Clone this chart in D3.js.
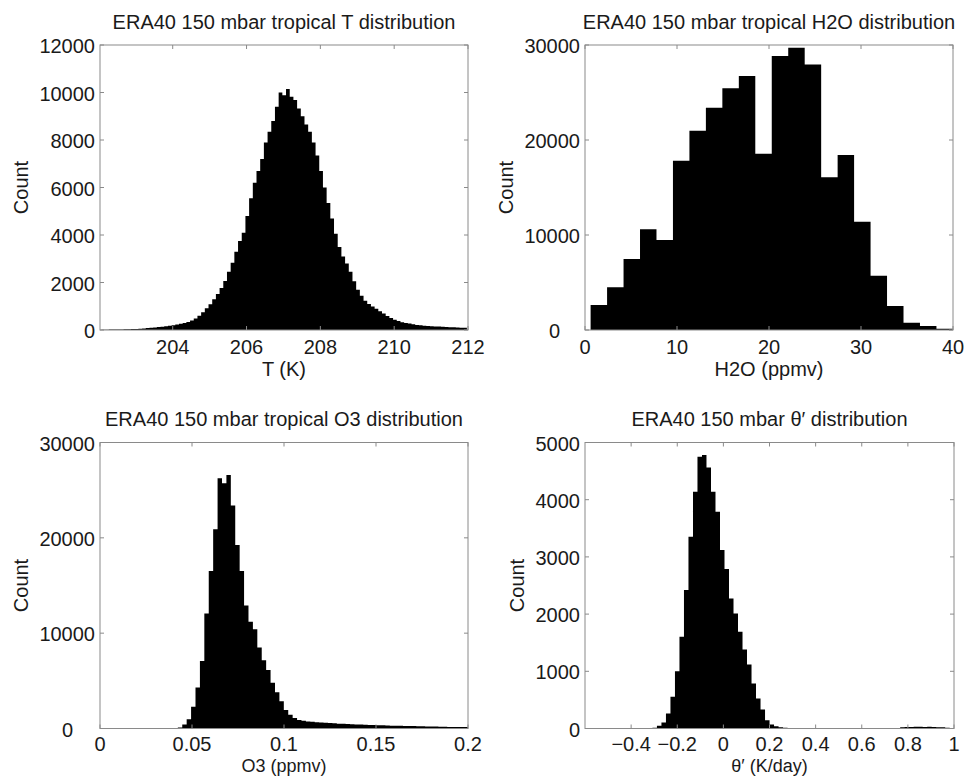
<!DOCTYPE html>
<html>
<head>
<meta charset="utf-8">
<script src="https://cdn.jsdelivr.net/npm/d3@7"></script>
<style>
  html, body { margin: 0; padding: 0; background: #fff; }
  svg { display: block; }
  text { font-family: "Liberation Sans", Arial, Helvetica, sans-serif; fill: #1a1a1a; }
</style>
</head>
<body>
<svg id="chart" width="967" height="776"></svg>
<script>
// ---------------- DATA ----------------
// Temperature histogram (K), bins of 0.1 K starting at tBinStart
const tBinStart = 202.07;
const tBinWidth = 0.1;
const tCounts = [
  15, 15, 20, 20, 25, 25, 30, 35, 40, 45,
  55, 65, 80, 95, 110, 125, 140, 160, 180, 200,
  230, 260, 300, 340, 400, 480, 600, 750, 920, 1080,
  1290, 1520, 1770, 2060, 2450, 2830, 3300, 3750, 4100, 4800,
  5550, 6200, 6700, 7200, 7900, 8350, 8800, 9400, 10000, 9880,
  10150, 9820, 9680, 9330, 9000, 8650, 8350, 7900, 7350, 6700,
  6000, 5350, 4700, 4050, 3500, 3100, 2800, 2450, 2050, 1700,
  1440, 1230, 1090, 990, 890, 790, 690, 590, 505, 435,
  375, 330, 300, 270, 240, 215, 195, 180, 170, 160,
  150, 145, 140, 130, 120, 115, 110, 100, 90
];
const tXTicks = [204, 206, 208, 210, 212];
const tYTicks = [0, 2000, 4000, 6000, 8000, 10000, 12000];

// H2O histogram (ppmv)
const h2oBinStart = 0.61;
const h2oBinWidth = 1.79;
const h2oCounts = [
  2630, 4490, 7470, 10600, 9470, 17820, 20980, 23400, 25440, 26740,
  18560, 28840, 29720, 27960, 16070, 18420, 11400, 5720, 2530, 770,
  420, 140
];
const h2oXTicks = [0, 10, 20, 30, 40];
const h2oYTicks = [0, 10000, 20000, 30000];

// O3 histogram (ppmv)
const o3BinStart = 0.0399;
const o3BinWidth = 0.0024;
const o3Counts = [
  40, 105, 420, 980, 2275, 4300, 7070, 12075, 16520, 20900,
  26250, 25725, 26600, 23380, 19250, 16520, 12900, 11200, 10400, 8500,
  7150, 6125, 4800, 3800, 2850, 1950, 1450, 1100, 900, 800,
  740, 700, 660, 630, 600, 570, 540, 510, 490, 470,
  450, 430, 410, 390, 375, 360, 345, 330, 315, 300,
  290, 280, 270, 260, 250, 240, 230, 220, 210, 200,
  190, 180, 170, 160, 155, 150, 145
];
const o3XTicks = [0, 0.05, 0.1, 0.15, 0.2];
const o3XLabels = ["0", "0.05", "0.1", "0.15", "0.2"];
const o3YTicks = [0, 10000, 20000, 30000];

// theta' histogram (K/day)
const thBinStart = -0.3076;
const thBinWidth = 0.01953;
const thCounts = [
  12, 47, 105, 262, 554, 1003, 1603, 2420, 3352, 4140,
  4750, 4780, 4565, 4140, 3790, 3120, 2787, 2274, 2011, 1691,
  1382, 1120, 787, 525, 332, 146, 70, 41, 23, 12,
  6, 0, 0, 0, 0, 0, 0, 0, 0, 0,
  0, 0, 0, 0, 0, 0, 0, 0, 0, 0,
  0, 0, 0, 0, 10, 20, 25, 28, 30, 30,
  28, 30, 26, 22, 20, 12, 5
];
const thXTicks = [-0.4, -0.2, 0, 0.2, 0.4, 0.6, 0.8, 1];
const thXLabels = ["\u22120.4", "\u22120.2", "0", "0.2", "0.4", "0.6", "0.8", "1"];
const thYTicks = [0, 1000, 2000, 3000, 4000, 5000];

const titles = [
  "ERA40 150 mbar tropical T distribution",
  "ERA40 150 mbar tropical H2O distribution",
  "ERA40 150 mbar tropical O3 distribution",
  "ERA40 150 mbar \u03B8\u2032 distribution"
];
const xLabels = ["T (K)", "H2O (ppmv)", "O3 (ppmv)", "\u03B8\u2032 (K/day)"];
const yLabel = "Count";

// ---------------- LAYOUT ----------------
const panels = [
  { left: 100, top: 45, w: 368, h: 285, xDom: [202.03, 212], yDom: [0, 12000],
    start: tBinStart, width: tBinWidth, counts: tCounts,
    xTicks: tXTicks, xLabs: tXTicks.map(String), yTicks: tYTicks, yLabX: -72, zeroShift: 0,
    tickDy: 23.5, xLabDy: 46, xLabSize: 20 },
  { left: 585, top: 45, w: 368, h: 285, xDom: [0, 40], yDom: [0, 30000],
    start: h2oBinStart, width: h2oBinWidth, counts: h2oCounts,
    xTicks: h2oXTicks, xLabs: h2oXTicks.map(String), yTicks: h2oYTicks, yLabX: -72, zeroShift: -20,
    tickDy: 23.5, xLabDy: 46, xLabSize: 20 },
  { left: 100, top: 442.5, w: 368, h: 286, xDom: [0, 0.2], yDom: [0, 30000],
    start: o3BinStart, width: o3BinWidth, counts: o3Counts,
    xTicks: o3XTicks, xLabs: o3XLabels, yTicks: o3YTicks, yLabX: -72, zeroShift: -22,
    tickDy: 22, xLabDy: 43, xLabSize: 18 },
  { left: 585, top: 442.5, w: 369, h: 286, xDom: [-0.6, 1], yDom: [0, 5000],
    start: thBinStart, width: thBinWidth, counts: thCounts,
    xTicks: thXTicks, xLabs: thXLabels, yTicks: thYTicks, yLabX: -61, zeroShift: 0,
    tickDy: 22, xLabDy: 43, xLabSize: 18 }
];

const svg = d3.select("#chart");
svg.append("rect").attr("width", 967).attr("height", 776).attr("fill", "#fff");

const axisColor = "#8a8a8a";
const fontSize = 20;
const tickLen = 4;

panels.forEach((p, i) => {
  const g = svg.append("g").attr("transform", `translate(${p.left},${p.top})`);
  const x = d3.scaleLinear().domain(p.xDom).range([0, p.w]);
  const y = d3.scaleLinear().domain(p.yDom).range([p.h, 0]);

  const clipId = "clip" + i;
  g.append("clipPath").attr("id", clipId)
    .append("rect").attr("x", 0).attr("y", 0).attr("width", p.w).attr("height", p.h);

  // step points: left edge of every bin, plus right edge of the last bin
  const pts = p.counts.map((c, k) => ({ xv: p.start + k * p.width, c }));
  pts.push({ xv: p.start + p.counts.length * p.width, c: p.counts[p.counts.length - 1] });

  const area = d3.area()
    .curve(d3.curveStepAfter)
    .x(d => x(d.xv))
    .y0(y(0))
    .y1(d => y(d.c));

  g.append("path")
    .attr("clip-path", `url(#${clipId})`)
    .attr("d", area(pts))
    .attr("fill", "#000")
    .attr("stroke", "none");

  // Box
  g.append("rect").attr("x", 0).attr("y", 0).attr("width", p.w).attr("height", p.h)
    .attr("fill", "none").attr("stroke", axisColor).attr("stroke-width", 1);

  // X ticks (inside, bottom and top)
  p.xTicks.forEach((t, k) => {
    const xx = x(t);
    g.append("line").attr("x1", xx).attr("x2", xx).attr("y1", p.h).attr("y2", p.h - tickLen)
      .attr("stroke", axisColor);
    g.append("line").attr("x1", xx).attr("x2", xx).attr("y1", 0).attr("y2", tickLen)
      .attr("stroke", axisColor);
    g.append("text").attr("x", xx).attr("y", p.h + p.tickDy)
      .attr("text-anchor", "middle").attr("font-size", fontSize)
      .text(p.xLabs[k]);
  });

  // Y ticks (inside, left and right)
  p.yTicks.forEach(t => {
    const yy = y(t);
    g.append("line").attr("x1", 0).attr("x2", tickLen).attr("y1", yy).attr("y2", yy)
      .attr("stroke", axisColor);
    g.append("line").attr("x1", p.w).attr("x2", p.w - tickLen).attr("y1", yy).attr("y2", yy)
      .attr("stroke", axisColor);
    g.append("text").attr("x", -5 + (t === 0 ? p.zeroShift : 0)).attr("y", yy + 8)
      .attr("text-anchor", "end").attr("font-size", fontSize)
      .text(String(t));
  });

  // Title
  g.append("text").attr("x", p.w / 2).attr("y", -16.5)
    .attr("text-anchor", "middle").attr("font-size", fontSize)
    .text(titles[i]);

  // X label
  g.append("text").attr("x", p.w / 2).attr("y", p.h + p.xLabDy)
    .attr("text-anchor", "middle").attr("font-size", p.xLabSize)
    .text(xLabels[i]);

  // Y label
  g.append("text")
    .attr("transform", `translate(${p.yLabX},${p.h / 2}) rotate(-90)`)
    .attr("text-anchor", "middle").attr("font-size", fontSize)
    .text(yLabel);
});
</script>
</body>
</html>
